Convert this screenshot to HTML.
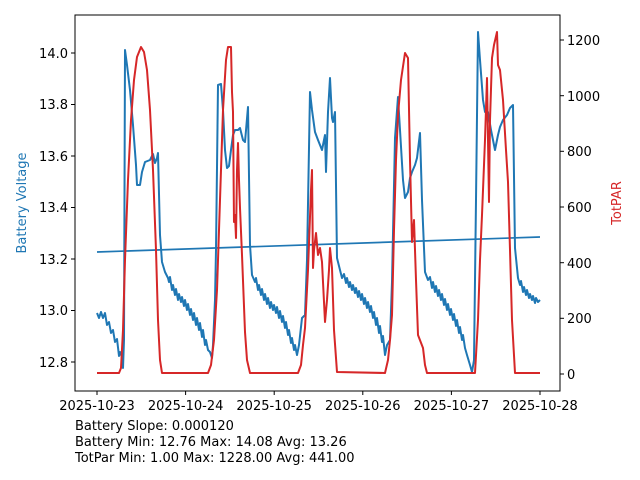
<!DOCTYPE html>
<html><head><style>body{margin:0;background:#fff}svg{display:block}text{font-family:"DejaVu Sans","Liberation Sans",sans-serif;font-size:13px;fill:#000}</style></head><body>
<svg width="640" height="480" viewBox="0 0 640 480">
<rect x="0" y="0" width="640" height="480" fill="#fff"/>
<g fill="none" stroke-width="2" stroke-linejoin="round">
<polyline stroke="#1f77b4" stroke-width="1.7" points="97,252 540,237"/>
<polyline stroke="#1f77b4" points="97,313 99,318 101,312 103,318 105,313 107,325 109,322 111,333 113,330 115,342 117,339 119,356 120,352 122,357 123,368 124,340 125,50 127,65 130,90 133,125 136,165 137,185 140,185 142,172 145,162 150,160 153,154 155,163 157,158 158,153 160,235 162,262 165,272 168,278 169,282 170,277 172,290 173,285 175,295 176,289 178,300 179,294 181,302 182,297 184,306 185,300 187,310 188,304 190,315 191,309 193,320 194,313 196,325 197,318 199,330 200,323 202,337 203,330 205,345 206,340 208,350 210,352 212,358 213,345 215,300 216,250 218,85 221,84 223,110 225,150 227,168 229,166 231,150 233,135 235,130 238,130 240,128 243,140 245,142 248,107 250,245 252,275 255,282 256,278 258,290 259,285 261,295 262,289 264,300 265,294 267,304 268,298 270,308 271,302 273,310 274,305 276,313 277,307 279,318 280,311 282,322 283,316 285,328 286,322 288,335 289,330 291,343 292,338 294,350 295,345 297,355 299,345 302,318 305,315 307,260 310,92 312,110 315,132 318,140 322,150 325,135 326,172 328,112 330,78 332,118 333,122 335,112 337,258 340,270 342,278 344,274 346,283 347,278 349,287 350,282 352,290 353,285 355,293 356,288 358,297 359,291 361,300 362,294 364,304 365,298 367,308 368,302 370,312 371,306 373,318 374,312 376,325 377,318 379,333 380,326 382,342 383,336 385,355 387,345 390,340 392,282 395,138 398,97 400,130 403,180 405,198 408,192 410,178 412,172 415,165 417,158 420,133 422,200 425,272 428,280 430,277 432,288 433,282 435,292 436,286 438,296 439,290 441,300 442,294 444,305 445,299 447,310 448,304 450,315 451,309 453,320 454,314 456,326 457,320 459,333 460,327 462,340 463,335 465,348 467,355 470,365 472,372 474,360 476,200 478,32 480,60 483,100 485,112 488,112 491,130 495,150 498,135 500,127 503,120 507,115 510,108 513,105 515,248 518,278 520,285 521,281 523,292 524,287 526,295 527,290 529,298 530,294 532,300 533,296 535,303 536,298 538,302 540,300"/>
<polyline stroke="#d62728" points="97,373 119,373 121,368 123,330 125,260 128,180 131,120 134,80 137,57 141,47 144,52 147,70 150,110 153,170 156,250 158,320 160,360 162,373 208,373 211,365 214,340 217,290 220,200 223,110 226,60 228,47 231,47 232,92 233,112 234,222 235,215 236,238 237,170 238,143 239,180 240,208 242,255 245,332 247,360 250,373 298,373 301,365 303,345 305,328 308,270 311,190 312,170 313,268 314,250 316,233 318,255 320,248 322,262 325,322 327,300 329,270 330,248 332,268 334,330 337,372 385,373 388,360 390,340 392,315 394,230 396,160 398,115 401,80 405,53 408,58 410,160 412,242 414,220 416,280 418,335 423,348 425,365 427,373 475,373 478,320 480,260 482,215 485,140 487,78 489,202 490,120 492,58 494,45 497,32 498,65 500,70 503,100 506,150 508,182 510,250 512,320 515,373 540,373"/>
</g>
<rect x="75" y="15" width="485" height="376" fill="none" stroke="#000" stroke-width="1"/>
<g stroke="#000" stroke-width="1">
<line x1="75" y1="53" x2="71" y2="53"/><line x1="75" y1="104.5" x2="71" y2="104.5"/><line x1="75" y1="156" x2="71" y2="156"/><line x1="75" y1="207.5" x2="71" y2="207.5"/><line x1="75" y1="259" x2="71" y2="259"/><line x1="75" y1="310.5" x2="71" y2="310.5"/><line x1="75" y1="362" x2="71" y2="362"/>
<line x1="560" y1="374" x2="564" y2="374"/><line x1="560" y1="318.3" x2="564" y2="318.3"/><line x1="560" y1="262.7" x2="564" y2="262.7"/><line x1="560" y1="207" x2="564" y2="207"/><line x1="560" y1="151.3" x2="564" y2="151.3"/><line x1="560" y1="95.7" x2="564" y2="95.7"/><line x1="560" y1="40" x2="564" y2="40"/>
<line x1="97" y1="391" x2="97" y2="395"/><line x1="185.6" y1="391" x2="185.6" y2="395"/><line x1="274.2" y1="391" x2="274.2" y2="395"/><line x1="362.8" y1="391" x2="362.8" y2="395"/><line x1="451.4" y1="391" x2="451.4" y2="395"/><line x1="540" y1="391" x2="540" y2="395"/>
</g>
<g text-anchor="end"><text x="68" y="58">14.0</text><text x="68" y="109">13.8</text><text x="68" y="161">13.6</text><text x="68" y="212">13.4</text><text x="68" y="264">13.2</text><text x="68" y="315">13.0</text><text x="68" y="367">12.8</text></g>
<g><text x="567" y="379">0</text><text x="567" y="323">200</text><text x="567" y="268">400</text><text x="567" y="212">600</text><text x="567" y="156">800</text><text x="567" y="101">1000</text><text x="567" y="45">1200</text></g>
<g text-anchor="middle"><text x="97" y="410">2025-10-23</text><text x="185.6" y="410">2025-10-24</text><text x="274.2" y="410">2025-10-25</text><text x="362.8" y="410">2025-10-26</text><text x="451.4" y="410">2025-10-27</text><text x="540" y="410">2025-10-28</text></g>
<text transform="translate(26,203) rotate(-90)" text-anchor="middle" style="fill:#1f77b4">Battery Voltage</text>
<text transform="translate(621,203) rotate(-90)" text-anchor="middle" style="fill:#d62728">TotPAR</text>
<text x="75" y="430">Battery Slope: 0.000120</text>
<text x="75" y="446">Battery Min: 12.76 Max: 14.08 Avg: 13.26</text>
<text x="75" y="462">TotPar Min: 1.00 Max: 1228.00 Avg: 441.00</text>
</svg></body></html>
